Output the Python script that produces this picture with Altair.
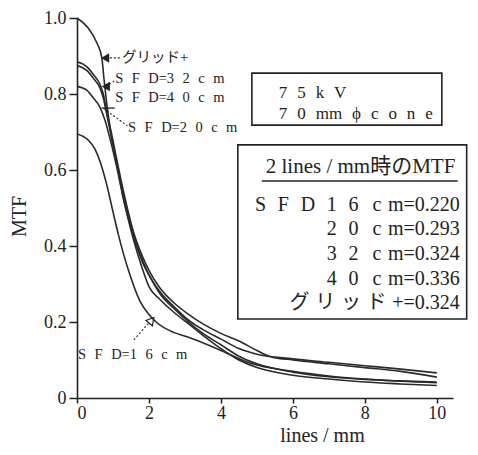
import altair as alt
import pandas as pd

# ---------------- data ----------------
x_grid = [0, 0.3, 0.55, 0.69, 0.75, 0.82, 0.92, 1.1, 1.28, 1.56, 1.83, 2.0, 2.3, 2.7, 3.1, 3.5, 4.0, 4.5, 5.0, 6, 7, 8, 9, 10]
y_grid = [1.0, 0.975, 0.935, 0.895, 0.84, 0.78, 0.71, 0.62, 0.53, 0.43, 0.355, 0.324, 0.275, 0.235, 0.20, 0.17, 0.14, 0.11, 0.09, 0.068, 0.056, 0.049, 0.045, 0.042]

x_40 = [0, 0.27, 0.45, 0.64, 0.73, 0.82, 0.95, 1.1, 1.3, 1.56, 1.83, 2.0, 2.3, 2.7, 3.1, 3.5, 4.0, 4.5, 5.0, 5.4, 6, 7, 8, 9, 10]
y_40 = [0.885, 0.872, 0.852, 0.825, 0.80, 0.755, 0.70, 0.63, 0.54, 0.44, 0.37, 0.336, 0.29, 0.25, 0.22, 0.195, 0.17, 0.15, 0.125, 0.108, 0.10, 0.09, 0.08, 0.07, 0.055]

x_32 = [0, 0.27, 0.45, 0.64, 0.73, 0.82, 0.95, 1.1, 1.3, 1.56, 1.83, 2.0, 2.3, 2.7, 3.1, 3.5, 4.0, 4.5, 5.0, 6, 7, 8, 9, 10]
y_32 = [0.875, 0.862, 0.842, 0.815, 0.79, 0.75, 0.69, 0.62, 0.53, 0.43, 0.36, 0.324, 0.28, 0.24, 0.205, 0.18, 0.155, 0.13, 0.115, 0.103, 0.094, 0.085, 0.076, 0.066]

x_20 = [0, 0.27, 0.45, 0.64, 0.78, 0.95, 1.1, 1.3, 1.56, 1.8, 2.0, 2.3, 2.7, 3.1, 3.5, 4.0, 4.5, 5.0, 6, 7, 8, 9, 10]
y_20 = [0.82, 0.81, 0.79, 0.765, 0.73, 0.67, 0.61, 0.52, 0.42, 0.345, 0.293, 0.26, 0.225, 0.195, 0.165, 0.13, 0.10, 0.08, 0.06, 0.05, 0.042, 0.037, 0.033]

x_16 = [0, 0.3, 0.5, 0.65, 0.83, 1.0, 1.15, 1.45, 1.75, 2.0, 2.2, 2.7, 3.1, 4.0, 4.8, 6, 7, 8, 9, 10]
y_16 = [0.695, 0.68, 0.655, 0.62, 0.56, 0.49, 0.43, 0.33, 0.255, 0.22, 0.20, 0.172, 0.16, 0.125, 0.092, 0.07, 0.058, 0.05, 0.044, 0.04]

curve_names = ["グリッド+", "SFD40", "SFD32", "SFD20", "SFD16"]
curve_x = [x_grid, x_40, x_32, x_20, x_16]
curve_y = [y_grid, y_40, y_32, y_20, y_16]

x_ticks = [0, 2, 4, 6, 8, 10]
y_ticks = [0, 0.2, 0.4, 0.6, 0.8, 1.0]

E = "\u2002"   # en space
H = "\u200a"   # hair space
T = "\u2009"   # thin space
P = "\u2004"   # three-per-em space
W = E + H      # wide gap (non-collapsing)

info_lines = [W.join("75kV"), W.join(["7", "0", "mm", "ϕ", "c", "o", "n", "e"])]
table_title = "2 lines / mm時のMTF"
table_rows = [
    W.join("SFD16") + E + T + "c" + P + "m=0.220",
    W.join("20") + E + T + "c" + P + "m=0.293",
    W.join("32") + E + T + "c" + P + "m=0.324",
    W.join("40") + E + T + "c" + P + "m=0.336",
    (T + H).join(["グ", "リ", "ッ", "ド", "+"]) + "=0.324",
]
curve_labels = [
    "グリッド+",
    W.join("SFD") + "=" + W.join("32") + W + "c" + W + "m",
    W.join("SFD") + "=" + W.join("40") + W + "c" + W + "m",
    W.join("SFD") + "=" + W.join("20") + W + "c" + W + "m",
    W.join("SFD") + "=" + W.join("16") + W + "c" + W + "m",
]

# ---------------- build tables ----------------
rows = []
for name, xs_, ys_ in zip(curve_names, curve_x, curve_y):
    for a, b in zip(xs_, ys_):
        rows.append({"curve": name, "x": a, "y": b})
df = pd.DataFrame(rows)

FONT = "Liberation Serif, 'Noto Sans CJK JP', serif"
INK = "#222222"

xs = alt.Scale(domain=[0, 10.45], nice=False, zero=False)
ys = alt.Scale(domain=[0, 1.0], nice=False)

axis_common = dict(grid=False, domainColor=INK, domainWidth=1.6, tickColor=INK, tickWidth=1.5,
                   labelFont=FONT, labelFontSize=18, labelColor=INK,
                   titleFont=FONT, titleFontSize=20, titleColor=INK, titleFontWeight="normal")

x_axis = alt.Axis(values=x_ticks, title="lines / mm", format="d", tickSize=5, labelPadding=1,
                  titleX=245, titleY=27, titleAlign="center", titleBaseline="top", **axis_common)
y_axis = alt.Axis(values=y_ticks, title="MTF", tickSize=8, labelPadding=3,
                  labelExpr="datum.value == 0 ? '0' : format(datum.value, '.1f')",
                  titleX=-58, titleY=198, titleAngle=-90, titleAlign="center",
                  titleBaseline="middle", **axis_common)


def X():
    return alt.X("x:Q", scale=xs, axis=x_axis)


def Y():
    return alt.Y("y:Q", scale=ys, axis=y_axis)


lines = alt.Chart(df).mark_line(interpolate="monotone", color="#2a2a2a", strokeWidth=1.6).encode(
    x=X(), y=Y(), detail="curve:N")

# boxes (data coordinates)
boxes = pd.DataFrame({
    "x": [4.86, 4.47], "x2": [10.14, 10.83],
    "y": [0.855, 0.666], "y2": [0.718, 0.208],
})
box_layer = alt.Chart(boxes).mark_rect(filled=False, stroke=INK, strokeWidth=1.6).encode(
    x=X(), x2="x2:Q", y=Y(), y2="y2:Q")

info_df = pd.DataFrame({"x": [5.61, 5.61], "y": [0.789, 0.734], "t": info_lines})
info_layer = alt.Chart(info_df).mark_text(align="left", baseline="alphabetic", font=FONT,
                                          fontSize=17, color=INK).encode(x=X(), y=Y(), text="t:N")

title_df = pd.DataFrame({"x": [7.88], "y": [0.593], "t": [table_title]})
title_layer = alt.Chart(title_df).mark_text(align="center", baseline="alphabetic", font=FONT,
                                            fontSize=21, color=INK).encode(x=X(), y=Y(), text="t:N")

under_df = pd.DataFrame({"x": [5.14], "x2": [10.58], "y": [0.571], "y2": [0.571]})
under_layer = alt.Chart(under_df).mark_rule(color=INK, strokeWidth=1.4).encode(
    x=X(), x2="x2:Q", y=Y(), y2="y2:Q")

rows_df = pd.DataFrame({"x": [10.64] * 5, "y": [0.492, 0.429, 0.363, 0.297, 0.234], "t": table_rows})
rows_layer = alt.Chart(rows_df).mark_text(align="right", baseline="alphabetic", font=FONT,
                                          fontSize=20, color=INK).encode(x=X(), y=Y(), text="t:N")

lab_df = pd.DataFrame({
    "x": [1.25, 1.06, 1.06, 1.42, 0.03],
    "y": [0.884, 0.83, 0.78, 0.70, 0.103],
    "t": curve_labels,
})
lab_layer = alt.Chart(lab_df).mark_text(align="left", baseline="alphabetic", font=FONT,
                                        fontSize=14.5, color=INK).encode(x=X(), y=Y(), text="t:N")

# leader lines
lead_df = pd.DataFrame({
    "x": [0.80, 0.80, 0.74, 1.58],
    "x2": [1.20, 1.05, 1.40, 2.00],
    "y": [0.895, 0.82, 0.762, 0.153],
    "y2": [0.895, 0.835, 0.716, 0.198],
})
lead_layer = alt.Chart(lead_df).mark_rule(color=INK, strokeWidth=1.1, strokeDash=[2, 2]).encode(
    x=X(), x2="x2:Q", y=Y(), y2="y2:Q")

head_df = pd.DataFrame({"x": [0.78, 0.80], "y": [0.895, 0.82]})
head_layer = alt.Chart(head_df).mark_point(shape="triangle-left", filled=True, color=INK,
                                           size=90, opacity=1).encode(x=X(), y=Y())

head2_df = pd.DataFrame({"x": [2.05], "y": [0.202]})
head2_layer = alt.Chart(head2_df).mark_point(shape="triangle", filled=False, color=INK,
                                             size=70, angle=40, opacity=1, strokeWidth=1.2).encode(x=X(), y=Y())

cross_df = pd.DataFrame({"x": [0.68], "x2": [1.05], "y": [0.763], "y2": [0.763]})
cross_layer = alt.Chart(cross_df).mark_rule(color=INK, strokeWidth=1.3).encode(
    x=X(), x2="x2:Q", y=Y(), y2="y2:Q")

chart = alt.layer(
    lines, box_layer, info_layer, title_layer, under_layer, rows_layer,
    lab_layer, lead_layer, head_layer, head2_layer, cross_layer,
).properties(
    width=376, height=380,
    padding={"left": 69, "top": 10, "right": 17, "bottom": 49},
    autosize=alt.AutoSizeParams(type="none"),
    background="white",
).configure_view(stroke=None)

chart.save("out.html", embed_options={"renderer": "svg", "actions": False})
